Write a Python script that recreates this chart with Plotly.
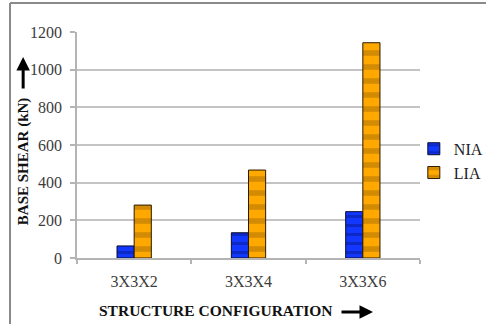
import plotly.graph_objects as go

# Base shear for each structure configuration
configs = ["3X3X2", "3X3X4", "3X3X6"]
nia_shear = [64, 134, 246]
lia_shear = [281, 467, 1143]
y_ticks = [0, 200, 400, 600, 800, 1000, 1200]

SERIF = "Times New Roman, Liberation Serif, serif"

fig = go.Figure()
fig.add_trace(go.Bar(
    name="NIA", x=configs, y=nia_shear,
    marker=dict(
        color="#0a2ee6",
        line=dict(color="#0b0b2a", width=1),
        pattern=dict(shape="-", fgcolor="#081a8c", bgcolor="#1238ff",
                     size=9, solidity=0.35),
    ),
))
fig.add_trace(go.Bar(
    name="LIA", x=configs, y=lia_shear,
    marker=dict(
        color="#f0a000",
        line=dict(color="#2a1a00", width=1),
        pattern=dict(shape="-", fgcolor="#a86e08", bgcolor="#ffa800",
                     size=14, solidity=0.4),
    ),
))

fig.update_layout(
    width=486, height=324,
    margin=dict(l=77, r=66, t=32, b=66, autoexpand=False),
    paper_bgcolor="white", plot_bgcolor="white",
    barmode="group", bargap=0.70, bargroupgap=0,
    font=dict(family=SERIF, size=15, color="#3c3c3c"),
    showlegend=True,
    legend=dict(x=0.982, y=0.43, xanchor="left", yanchor="middle",
                font=dict(family=SERIF, size=16, color="#222222"),
                itemwidth=30, bgcolor="rgba(0,0,0,0)"),
    xaxis=dict(
        showline=True, linecolor="#b4b4b4", linewidth=1.5,
        ticks="outside", tickson="boundaries", ticklen=4,
        tickcolor="#b4b4b4", tickwidth=1.5,
        ticklabelstandoff=8,
        tickfont=dict(family=SERIF, size=16, color="#3c3c3c"),
        showgrid=False,
    ),
    yaxis=dict(
        range=[0, 1200], tickvals=y_ticks,
        showline=True, linecolor="#b4b4b4", linewidth=1.5,
        ticks="outside", ticklen=5, tickcolor="#b4b4b4", tickwidth=1.5,
        showgrid=True, gridcolor="#c4c4c4", gridwidth=1.5,
        zeroline=False,
        ticklabelstandoff=5,
        tickfont=dict(family=SERIF, size=16, color="#3c3c3c"),
    ),
)

# Axis titles with their direction arrows
fig.add_annotation(
    text="<b>BASE SHEAR (kN)</b>", textangle=-90,
    xref="paper", yref="paper", x=-0.157, y=0.429,
    xanchor="center", yanchor="middle", showarrow=False,
    font=dict(family=SERIF, size=15, color="#111111"),
)
fig.add_annotation(
    text="", xref="paper", yref="paper", x=-0.157, y=0.889,
    ax=0, ay=33, axref="pixel", ayref="pixel",
    showarrow=True, arrowhead=2, arrowsize=0.9, arrowwidth=3,
    arrowcolor="#000000", standoff=0,
)
fig.add_annotation(
    text="<b>STRUCTURE CONFIGURATION</b>",
    xref="paper", yref="paper", x=0.405, y=-0.2345,
    xanchor="center", yanchor="middle", showarrow=False,
    font=dict(family=SERIF, size=15.5, color="#111111"),
)
fig.add_annotation(
    text="", xref="paper", yref="paper", x=0.863, y=-0.239,
    ax=-33, ay=0, axref="pixel", ayref="pixel",
    showarrow=True, arrowhead=2, arrowsize=0.9, arrowwidth=3,
    arrowcolor="#000000", standoff=0,
)

# Frame around the chart (top and left edges)
frame = dict(type="line", xref="paper", yref="paper",
             line=dict(color="#8a8a8a", width=2))
fig.add_shape(x0=-0.1953, x1=1.2, y0=1.128, y1=1.128, **frame)
fig.add_shape(x0=-0.1953, x1=-0.1953, y0=1.128, y1=-0.3, **frame)

fig.write_html("out.html")
